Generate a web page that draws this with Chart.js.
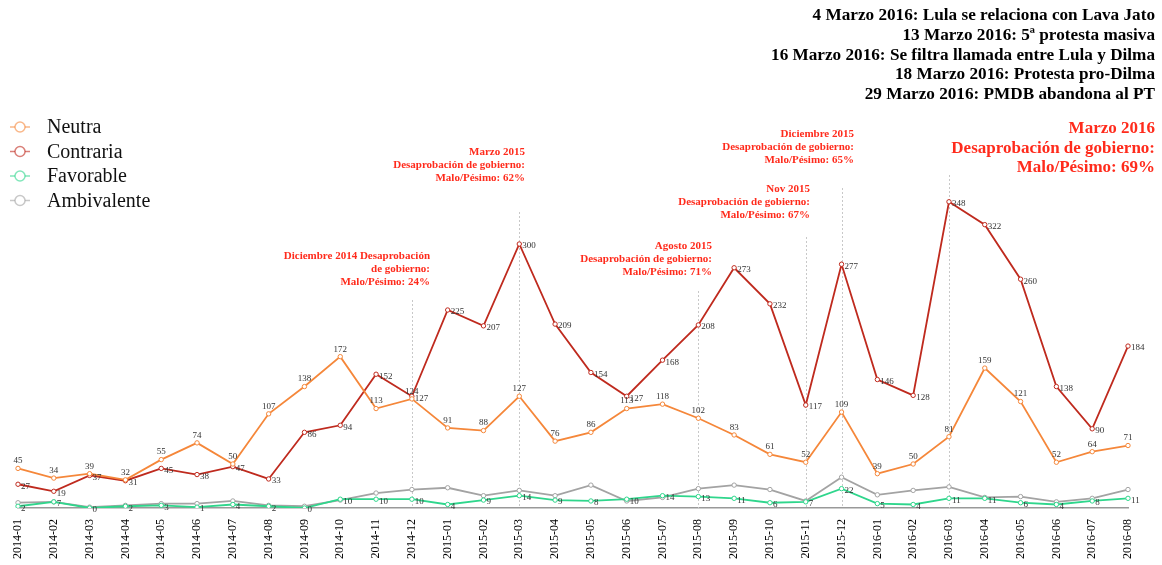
<!DOCTYPE html>
<html lang="es">
<head>
  <meta charset="UTF-8">
  <title>Opinión mensual 2014-2016</title>
  <script src="https://cdn.jsdelivr.net/npm/chart.js"></script>
  <style>
    body { margin: 0; background: #fff; }
  </style>
</head>
<body>
  <canvas id="opinionChart" width="1162" height="565"></canvas>

  <script>
    // Data
    const months = ['2014-01','2014-02','2014-03','2014-04','2014-05','2014-06','2014-07','2014-08',
      '2014-09','2014-10','2014-11','2014-12','2015-01','2015-02','2015-03','2015-04','2015-05',
      '2015-06','2015-07','2015-08','2015-09','2015-10','2015-11','2015-12','2016-01','2016-02',
      '2016-03','2016-04','2016-05','2016-06','2016-07','2016-08'];
    const neutra = [45,34,39,32,55,74,50,107,138,172,113,124,91,88,127,76,86,113,118,102,83,61,52,109,39,50,81,159,121,52,64,71];
    const contraria = [27,19,37,31,45,38,47,33,86,94,152,127,225,207,300,209,154,127,168,208,273,232,117,277,146,128,348,322,260,138,90,184];
    const favorable = [2,7,0,2,3,1,4,2,0,10,10,10,4,9,14,9,8,10,14,13,11,6,7,22,5,4,11,11,6,4,8,11];
    const ambivalente = [6,7,1,3,5,5,8,3,2,9,17,21,23,14,20,14,26,8,12,22,26,21,8,35,15,20,24,12,13,7,11,21];

    const eventMonths = ['2014-12','2015-03','2015-08','2015-11','2015-12','2016-03'];
    const eventNotes = [
      ['Diciembre 2014 Desaprobación', 'de gobierno:', 'Malo/Pésimo: 24%'],
      ['Marzo 2015', 'Desaprobación de gobierno:', 'Malo/Pésimo: 62%'],
      ['Agosto 2015', 'Desaprobación de gobierno:', 'Malo/Pésimo: 71%'],
      ['Nov 2015', 'Desaprobación de gobierno:', 'Malo/Pésimo: 67%'],
      ['Diciembre 2015', 'Desaprobación de gobierno:', 'Malo/Pésimo: 65%'],
      ['Marzo 2016', 'Desaprobación de gobierno:', 'Malo/Pésimo: 69%']
    ];
    const headerLines = [
      '4 Marzo 2016: Lula se relaciona con Lava Jato',
      '13 Marzo 2016: 5ª protesta masiva',
      '16 Marzo 2016: Se filtra llamada entre Lula y Dilma',
      '18 Marzo 2016: Protesta pro-Dilma',
      '29 Marzo 2016: PMDB abandona al PT'
    ];

    const SERIF = '"Liberation Serif", "Times New Roman", serif';
    const RED = '#ff2b1c';

    // where each note sits: right edge, first baseline, line height, font size, dotted line top
    const noteLayout = [
      { x: 430, y: 259, lh: 13, size: 11, lineTop: 300 },
      { x: 525, y: 155, lh: 13, size: 11, lineTop: 212 },
      { x: 712, y: 249, lh: 13, size: 11, lineTop: 291 },
      { x: 810, y: 192, lh: 13, size: 11, lineTop: 237 },
      { x: 854, y: 137, lh: 13, size: 11, lineTop: 188 },
      { x: 1155, y: 133, lh: 19.5, size: 17, lineTop: 175 }
    ];

    function makeSeries(label, data, color) {
      return {
        label: label,
        data: data,
        borderColor: color,
        backgroundColor: '#fff',
        borderWidth: 1.8,
        pointRadius: 2.2,
        pointBorderWidth: 1,
        pointBorderColor: color,
        pointBackgroundColor: '#fff',
        tension: 0
      };
    }

    const annotations = {
      id: 'annotations',
      beforeDatasetsDraw(chart) {
        const ctx = chart.ctx;
        const x = chart.scales.x;
        const y = chart.scales.y;
        ctx.save();
        ctx.strokeStyle = '#c8c8c8';
        ctx.lineWidth = 1;
        ctx.setLineDash([2, 2]);
        eventMonths.forEach((m, i) => {
          const px = Math.round(x.getPixelForValue(months.indexOf(m))) + 0.5;
          ctx.beginPath();
          ctx.moveTo(px, noteLayout[i].lineTop);
          ctx.lineTo(px, y.getPixelForValue(0));
          ctx.stroke();
        });
        ctx.restore();
      },
      afterDraw(chart) {
        const ctx = chart.ctx;
        ctx.save();
        ctx.textAlign = 'right';
        ctx.textBaseline = 'alphabetic';

        // header
        ctx.fillStyle = '#000';
        ctx.font = 'bold 17.2px ' + SERIF;
        headerLines.forEach((t, i) => ctx.fillText(t, 1155, 20 + i * 19.8));

        // red notes
        ctx.fillStyle = RED;
        eventNotes.forEach((lines, i) => {
          const l = noteLayout[i];
          ctx.font = 'bold ' + l.size + 'px ' + SERIF;
          lines.forEach((t, j) => ctx.fillText(t, l.x, l.y + j * l.lh));
        });

        // legend
        ctx.textAlign = 'left';
        ctx.textBaseline = 'middle';
        ctx.font = '20px ' + SERIF;
        chart.data.datasets.forEach((ds, i) => {
          const cy = 127 + i * 24.5;
          ctx.globalAlpha = 0.6;
          ctx.strokeStyle = ds.borderColor;
          ctx.lineWidth = 1.5;
          ctx.beginPath();
          ctx.moveTo(10, cy);
          ctx.lineTo(15, cy);
          ctx.moveTo(25, cy);
          ctx.lineTo(30, cy);
          ctx.stroke();
          ctx.beginPath();
          ctx.arc(20, cy, 5, 0, Math.PI * 2);
          ctx.fillStyle = '#fff';
          ctx.fill();
          ctx.stroke();
          ctx.globalAlpha = 1;
          ctx.fillStyle = '#111';
          ctx.fillText(ds.label, 47, cy + 1);
        });
        ctx.restore();
      }
    };

    // value labels: Neutra above, Contraria / Favorable to the right
    const valueLabels = {
      id: 'valueLabels',
      afterDatasetsDraw(chart) {
        const ctx = chart.ctx;
        ctx.save();
        ctx.font = '9px ' + SERIF;
        ctx.fillStyle = '#333';
        [0, 1, 2].forEach(di => {
          const meta = chart.getDatasetMeta(di);
          const values = chart.data.datasets[di].data;
          meta.data.forEach((pt, i) => {
            if (di === 0) {
              ctx.textAlign = 'center';
              ctx.textBaseline = 'bottom';
              ctx.fillText(values[i], pt.x, pt.y - 3);
            } else {
              ctx.textAlign = 'left';
              ctx.textBaseline = 'middle';
              ctx.fillText(values[i], pt.x + 3, pt.y + 2);
            }
          });
        });
        ctx.restore();
      }
    };

    const ctx = document.getElementById('opinionChart').getContext('2d');
    new Chart(ctx, {
      type: 'line',
      data: {
        labels: months,
        datasets: [
          makeSeries('Neutra', neutra, '#f5873a'),
          makeSeries('Contraria', contraria, '#bf2a1e'),
          makeSeries('Favorable', favorable, '#2fd68c'),
          makeSeries('Ambivalente', ambivalente, '#a3a3a3')
        ]
      },
      options: {
        responsive: false,
        animation: false,
        layout: { padding: { left: 18, right: 34, top: 156, bottom: 3 } },
        plugins: {
          legend: { display: false },
          tooltip: { enabled: false }
        },
        scales: {
          x: {
            offset: false,
            grid: { display: false },
            border: { display: true, color: '#999', width: 1.5 },
            ticks: {
              autoSkip: false,
              maxRotation: 90,
              minRotation: 90,
              padding: 3,
              color: '#000',
              font: { family: SERIF, size: 12 }
            }
          },
          y: {
            display: false,
            min: 0,
            max: 400
          }
        }
      },
      plugins: [annotations, valueLabels]
    });
  </script>
</body>
</html>
